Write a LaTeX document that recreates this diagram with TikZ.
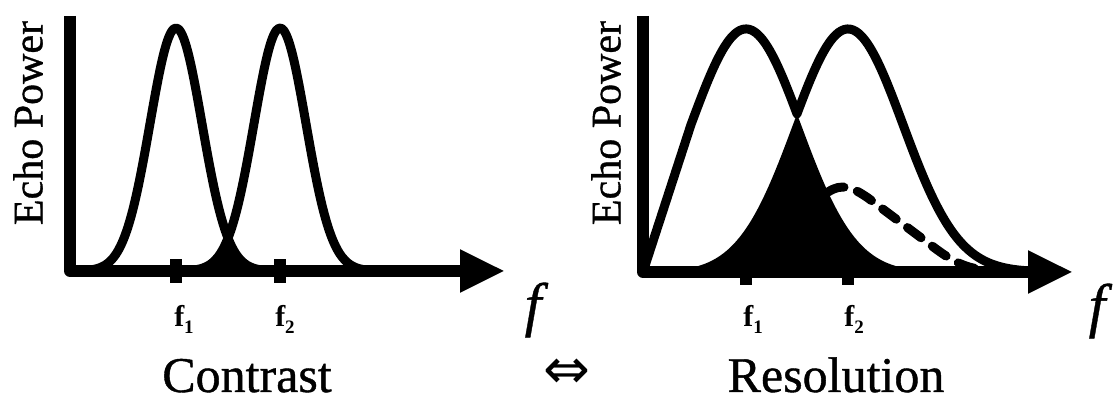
\documentclass[tikz,border=0pt]{standalone}
\usepackage{fontspec}
\setmainfont{Liberation Serif}
\newfontfamily\heavy{Liberation Serif}[FakeBold=0.8]
\newfontfamily\heavyit{Liberation Serif Italic}[FakeBold=0.6]
\newfontfamily\symfont{DejaVu Sans}
\usetikzlibrary{arrows.meta,positioning}

\begin{document}
\begin{tikzpicture}[
  x=1pt,y=1pt,
  declare function={gauss(\x,\m,\s)=243*exp(-0.5*((\x-\m)/\s)^2);},
  axis/.style={line width=12pt,line join=round,
               -{Triangle[length=45pt,width=40pt]}},
  curve/.style={line width=9pt,line join=round,smooth,samples=90},
  dashcurve/.style={line width=9pt,line cap=round,dash pattern=on 17pt off 14pt},
  tickmark/.style={line width=12pt},
  ylab/.style={rotate=90,font=\fontsize{42}{42}\selectfont\heavy,inner sep=0pt},
  flab/.style={font=\fontsize{30}{30}\selectfont\bfseries,inner sep=0pt},
  fvar/.style={font=\fontsize{60}{60}\selectfont\heavyit,inner sep=0pt},
  title/.style={font=\fontsize{50}{50}\selectfont\heavy,inner sep=0pt,
                anchor=base,text depth=0pt}
]
\useasboundingbox (0,0) rectangle (1117,403);

% contrast: narrow peaks, small overlap
\fill[smooth,samples=60] plot[domain=150:228] (\x,{132+gauss(\x,280,26)})
  -- plot[domain=228:306] (\x,{132+gauss(\x,176,26)}) -- cycle;
\draw[curve] plot[domain=75:300] (\x,{132+gauss(\x,176,26)});
\draw[curve] plot[domain=160:385] (\x,{132+gauss(\x,280,26)});
\draw[axis] (70,387) -- (70,132) -- (505,132);
\draw[tickmark] (176,120) -- (176,144);
\draw[tickmark] (280,120) -- (280,144);
\node[ylab] (powA) at (28,280) {Echo Power};
\node[flab] (fA1) at (184,84) {f\raisebox{-7pt}{\fontsize{19}{19}\selectfont 1}};
\node[flab] (fA2) at (285,84) {f\raisebox{-7pt}{\fontsize{19}{19}\selectfont 2}};
\node[fvar] (fA) at (533,93) {f};
\node[title] (con) at (247,11) {Contrast};

\node[font=\fontsize{56}{56}\selectfont\symfont,inner sep=0pt,anchor=base]
  (iff) at (567,14) {⇔};

% resolution: wide peaks, large overlap
\fill[smooth,samples=60] plot[domain=643:797] (\x,{131+gauss(\x,848,55)})
  -- plot[domain=797:1040] (\x,{131+gauss(\x,746,55)}) -- cycle;
\draw[curve] (643,131) -- plot[domain=691:797] (\x,{131+gauss(\x,746,55)})
  -- plot[domain=797:1060] (\x,{131+gauss(\x,848,55)});
\draw[dashcurve] (828,211) .. controls (842,220) and (852,216) .. (868,205)
  -- (932,157) .. controls (948,145) and (960,137) .. (978,134);
\draw[axis] (643,387) -- (643,131) -- (1073,131);
\draw[tickmark] (746,118) -- (746,131);
\draw[tickmark] (848,118) -- (848,131);
\node[ylab] (powB) at (606,280) {Echo Power};
\node[flab] (fB1) at (753,84) {f\raisebox{-7pt}{\fontsize{19}{19}\selectfont 1}};
\node[flab] (fB2) at (854,84) {f\raisebox{-7pt}{\fontsize{19}{19}\selectfont 2}};
\node[fvar] (fB) at (1097,92) {f};
\node[title] (res) at (836,11) {Resolution};
\end{tikzpicture}
\end{document}
